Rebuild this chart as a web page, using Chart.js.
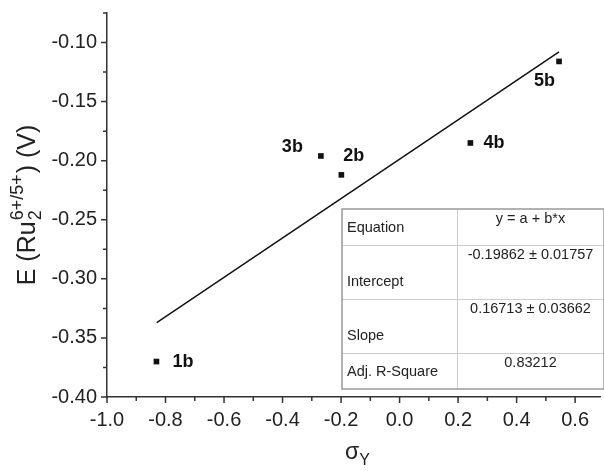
<!DOCTYPE html>
<html>
<head>
<meta charset="utf-8">
<script src="https://cdn.jsdelivr.net/npm/chart.js@4/dist/chart.umd.min.js"></script>
<style>
  html, body { margin: 0; padding: 0; background: #fff; }
  canvas { display: block; }
</style>
</head>
<body>
<canvas id="chart" width="604" height="471"></canvas>
<script>
// data
const compounds = ['1b', '2b', '3b', '4b', '5b'];
const sigmaY = [-0.831, -0.199, -0.269, 0.242, 0.545];
const potential = [-0.370, -0.212, -0.196, -0.185, -0.116];

// linear fit line ends
const fitX = [-0.83, 0.545];
const fitY = [-0.337, -0.108];

const xTicks = [-1.0, -0.8, -0.6, -0.4, -0.2, 0.0, 0.2, 0.4, 0.6];
const yTicks = [-0.40, -0.35, -0.30, -0.25, -0.20, -0.15, -0.10];

const tableRows = [
  ['Equation', 'y = a + b*x'],
  ['Intercept', '-0.19862 \u00b1 0.01757'],
  ['Slope', '0.16713 \u00b1 0.03662'],
  ['Adj. R-Square', '0.83212']
];

// label offsets (px) next to each point: [dx, dy, align]
const labelOffsets = [[16, 0, 'left'], [2, -19, 'left'], [-18, -9, 'right'], [13, 0, 'left'], [-4, 20, 'right']];

const FONT = '"Liberation Sans", Arial, sans-serif';
const INK = '#222';

const overlay = {
  id: 'overlay',
  afterDraw(chart) {
    const { ctx, chartArea: area, scales: { x, y } } = chart;
    ctx.save();

    // major + minor ticks
    ctx.strokeStyle = '#333';
    ctx.lineWidth = 1.5;
    ctx.beginPath();
    xTicks.forEach(v => {
      const px = x.getPixelForValue(v);
      ctx.moveTo(px, area.bottom); ctx.lineTo(px, area.bottom + 6);
      const m = v + 0.1;
      if (m <= x.max) {
        const pm = x.getPixelForValue(m);
        ctx.moveTo(pm, area.bottom); ctx.lineTo(pm, area.bottom + 4);
      }
    });
    yTicks.forEach(v => {
      const py = y.getPixelForValue(v);
      ctx.moveTo(area.left, py); ctx.lineTo(area.left - 6, py);
      const m = v + 0.025;
      if (m <= y.max + 1e-9) {
        const pm = y.getPixelForValue(m);
        ctx.moveTo(area.left, pm); ctx.lineTo(area.left - 4, pm);
      }
    });
    ctx.stroke();

    // point labels
    ctx.fillStyle = '#111';
    ctx.font = 'bold 18px ' + FONT;
    ctx.textBaseline = 'middle';
    compounds.forEach((name, i) => {
      const [dx, dy, align] = labelOffsets[i];
      ctx.textAlign = align;
      ctx.fillText(name, x.getPixelForValue(sigmaY[i]) + dx, y.getPixelForValue(potential[i]) + dy);
    });

    // fit table
    const tx = 342, ty = 209, tw = 262, colX = 457;
    const rowH = [36, 54, 54, 36];
    const th = rowH.reduce((a, b) => a + b, 0);
    ctx.fillStyle = '#fff';
    ctx.fillRect(tx, ty, tw, th);
    ctx.strokeStyle = '#ccc';
    ctx.lineWidth = 1;
    ctx.beginPath();
    let ry = ty;
    rowH.slice(0, -1).forEach(h => { ry += h; ctx.moveTo(tx, ry + 0.5); ctx.lineTo(tx + tw, ry + 0.5); });
    ctx.moveTo(colX + 0.5, ty); ctx.lineTo(colX + 0.5, ty + th);
    ctx.stroke();
    ctx.strokeStyle = '#999';
    ctx.lineWidth = 1.5;
    ctx.strokeRect(tx, ty, tw, th);

    ctx.fillStyle = INK;
    ctx.font = '14.5px ' + FONT;
    ry = ty;
    tableRows.forEach((row, i) => {
      const h = rowH[i];
      ctx.textAlign = 'left';
      ctx.textBaseline = 'middle';
      ctx.fillText(row[0], tx + 5, ry + h - 17);
      ctx.textAlign = 'center';
      ctx.fillText(row[1], (colX + tx + tw) / 2, ry + 10);
      ry += h;
    });

    // y axis title with sub/superscript
    ctx.save();
    ctx.translate(26, 205);
    ctx.rotate(-Math.PI / 2);
    ctx.fillStyle = INK;
    ctx.textAlign = 'left';
    ctx.textBaseline = 'alphabetic';
    const big = '25px ' + FONT, small = '18px ' + FONT;
    ctx.font = big;
    const p1 = 'E (Ru', p3 = ') (V)';
    const w1 = ctx.measureText(p1).width, w3 = ctx.measureText(p3).width;
    ctx.font = small;
    const wSub = ctx.measureText('2').width, wSup = ctx.measureText('6+/5+').width;
    const total = w1 + Math.max(wSub, wSup) + w3 + 2;
    let cx = -total / 2;
    const base = 9;
    ctx.font = big; ctx.fillText(p1, cx, base); cx += w1 + 1;
    ctx.font = small;
    ctx.fillText('2', cx, base + 6);
    ctx.fillText('6+/5+', cx, base - 12);
    cx += Math.max(wSub, wSup) + 1;
    ctx.font = big; ctx.fillText(p3, cx, base);
    ctx.restore();

    // x axis title
    ctx.fillStyle = INK;
    ctx.textAlign = 'left';
    ctx.textBaseline = 'alphabetic';
    ctx.font = '23px ' + FONT;
    const ws = ctx.measureText('\u03c3').width;
    ctx.fillText('\u03c3', 345, 459);
    ctx.font = '16px ' + FONT;
    ctx.fillText('Y', 345 + ws, 465);

    ctx.restore();
  }
};

new Chart(document.getElementById('chart'), {
  type: 'scatter',
  data: {
    datasets: [
      {
        data: fitX.map((v, i) => ({ x: v, y: fitY[i] })),
        showLine: true,
        borderColor: '#111',
        borderWidth: 1.5,
        pointRadius: 0,
        order: 2
      },
      {
        data: sigmaY.map((v, i) => ({ x: v, y: potential[i] })),
        pointStyle: 'rect',
        pointRadius: 4,
        backgroundColor: '#111',
        borderColor: '#111',
        borderWidth: 0,
        order: 1
      }
    ]
  },
  options: {
    responsive: false,
    animation: false,
    layout: { padding: { top: 13, right: 0, left: 0, bottom: 0 } },
    plugins: { legend: { display: false }, tooltip: { enabled: false } },
    scales: {
      x: {
        type: 'linear',
        min: -1.0,
        max: 0.685,
        afterBuildTicks: s => { s.ticks = xTicks.map(v => ({ value: v })); },
        afterFit: s => { s.height = 74; s.paddingLeft = 0; s.paddingRight = 0; },
        grid: { display: false, drawTicks: false },
        border: { display: true, color: '#333', width: 1.5 },
        ticks: {
          padding: 11,
          color: INK,
          font: { family: FONT, size: 20 },
          callback: v => v.toFixed(1)
        }
      },
      y: {
        type: 'linear',
        min: -0.40,
        max: -0.075,
        afterBuildTicks: s => { s.ticks = yTicks.map(v => ({ value: v })); },
        afterFit: s => { s.width = 107; s.paddingTop = 0; s.paddingBottom = 0; },
        grid: { display: false, drawTicks: false },
        border: { display: true, color: '#333', width: 1.5 },
        ticks: {
          padding: 10,
          color: INK,
          font: { family: FONT, size: 20 },
          callback: v => v.toFixed(2)
        }
      }
    }
  },
  plugins: [overlay]
});
</script>
</body>
</html>
